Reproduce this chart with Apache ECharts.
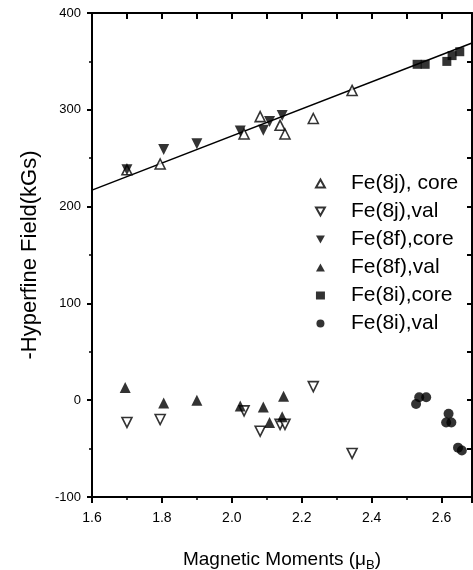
<!DOCTYPE html>
<html>
<head>
<meta charset="utf-8">
<script src="https://cdn.jsdelivr.net/npm/echarts@6/dist/echarts.min.js"></script>
<style>
html,body{margin:0;padding:0;background:#fff;}
#chart{width:473px;height:570px;}
</style>
</head>
<body>
<div id="chart"></div>
<script>
// values
var j8CoreX = [1.70, 1.795, 2.035, 2.081, 2.138, 2.152, 2.233, 2.344];
var j8CoreY = [238, 244, 275, 293, 284, 275, 291, 320];
var j8ValX = [1.70, 1.795, 2.035, 2.081, 2.138, 2.152, 2.233, 2.344];
var j8ValY = [-23, -20, -11, -32, -25, -25, 14, -55];
var f8CoreX = [1.70, 1.805, 1.90, 2.024, 2.09, 2.108, 2.144];
var f8CoreY = [238, 259, 265, 278, 279, 288, 294];
var f8ValX = [1.695, 1.805, 1.90, 2.024, 2.09, 2.108, 2.144, 2.148];
var f8ValY = [13, -3, 0, -6, -7, -23, -17, 4];
var i8CoreX = [2.53, 2.553, 2.615, 2.63, 2.652];
var i8CoreY = [347, 347, 350, 356, 360];
var i8ValX = [2.527, 2.536, 2.556, 2.613, 2.62, 2.628, 2.647, 2.658];
var i8ValY = [-4, 3, 3, -23, -14, -23, -49, -52];
var fitX = [1.6, 2.687];
var fitY = [217, 369];
var legendNames = ['Fe(8j), core', 'Fe(8j),val', 'Fe(8f),core', 'Fe(8f),val', 'Fe(8i),core', 'Fe(8i),val'];

function pairs(xs, ys) {
	var out = [];
	for (var k = 0; k < xs.length; k++) out.push([xs[k], ys[k]]);
	return out;
}

var chart = echarts.init(document.getElementById('chart'));
var font = 'Liberation Sans, Arial, sans-serif';
var openStyle = {color: '#fff', borderColor: '#000', borderWidth: 1.6};
var fillStyle = {color: '#000', borderColor: '#000', borderWidth: 0};
var upIcon = 'path://M5,0 L10,9 L0,9 Z';
var downIcon = 'path://M0,0 L10,0 L5,9 Z';
var legendIcons = [upIcon, downIcon, downIcon, upIcon, 'rect', 'circle'];

var option = {
	backgroundColor: '#fff',
	animation: false,
	textStyle: {fontFamily: font, color: '#000'},
	grid: {left: 92, right: 1, top: 13, bottom: 73, outerBoundsMode: 'none', containLabel: false},
	legend: {
		data: legendNames.map(function (n, k) { return {name: n, icon: legendIcons[k]}; }),
		orient: 'vertical',
		left: 310,
		top: 168,
		itemWidth: 9,
		itemHeight: 8,
		itemGap: 7,
		textStyle: {fontSize: 21, color: '#000', fontFamily: font, padding: [0, 0, 0, 21]}
	},
	xAxis: [
		{
			type: 'value',
			position: 'bottom',
			min: 1.6,
			max: 2.687,
			interval: 0.2,
			name: '{a|Magnetic Moments (μ}{b|B}{a|)}',
			nameLocation: 'middle',
			nameGap: 50,
			nameTextStyle: {
				rich: {
					a: {fontSize: 19, fontFamily: font, color: '#000'},
					b: {fontSize: 13, fontFamily: font, color: '#000', verticalAlign: 'bottom', padding: [12, 0, 0, 0]}
				}
			},
			axisLine: {show: true, onZero: false, lineStyle: {color: '#000', width: 2}},
			axisTick: {show: true, inside: false, length: 6, lineStyle: {color: '#000', width: 2}},
			minorTick: {show: true, splitNumber: 2, length: 3, lineStyle: {color: '#000', width: 1.5}},
			axisLabel: {
				fontSize: 14, color: '#000', fontFamily: font, margin: 14, showMaxLabel: false,
				formatter: function (v) { return v.toFixed(1); }
			},
			splitLine: {show: false}
		},
		{
			type: 'value',
			position: 'top',
			min: 1.6,
			max: 2.687,
			interval: 0.1,
			axisLine: {show: true, onZero: false, lineStyle: {color: '#000', width: 2}},
			axisTick: {show: true, inside: true, length: 6, lineStyle: {color: '#000', width: 2}},
			axisLabel: {show: false},
			splitLine: {show: false}
		}
	],
	yAxis: [
		{
			type: 'value',
			position: 'left',
			min: -100,
			max: 400,
			interval: 100,
			name: '-Hyperfine Field(kGs)',
			nameLocation: 'middle',
			nameGap: 51,
			nameTextStyle: {fontSize: 22, fontFamily: font, color: '#000'},
			axisLine: {show: true, onZero: false, lineStyle: {color: '#000', width: 2}},
			axisTick: {show: true, inside: false, length: 5, lineStyle: {color: '#000', width: 2}},
			minorTick: {show: true, splitNumber: 2, length: 3, lineStyle: {color: '#000', width: 1.5}},
			axisLabel: {fontSize: 13, color: '#000', fontFamily: font, margin: 11},
			splitLine: {show: false}
		},
		{
			type: 'value',
			position: 'right',
			min: -100,
			max: 400,
			interval: 50,
			axisLine: {show: true, onZero: false, lineStyle: {color: '#000', width: 2}},
			axisTick: {show: true, inside: true, length: 5, lineStyle: {color: '#000', width: 2}},
			axisLabel: {show: false},
			splitLine: {show: false}
		}
	],
	series: [
		{
			name: 'fit',
			type: 'line',
			data: pairs(fitX, fitY),
			showSymbol: false,
			symbol: 'none',
			lineStyle: {color: '#000', width: 1.5},
			z: 1
		},
		{
			name: 'Fe(8j), core',
			type: 'scatter',
			symbol: 'triangle',
			symbolSize: 10,
			itemStyle: openStyle,
			data: pairs(j8CoreX, j8CoreY),
			z: 3
		},
		{
			name: 'Fe(8j),val',
			type: 'scatter',
			symbol: 'triangle',
			symbolRotate: 180,
			symbolSize: 10,
			itemStyle: openStyle,
			data: pairs(j8ValX, j8ValY),
			z: 3
		},
		{
			name: 'Fe(8f),core',
			type: 'scatter',
			symbol: 'triangle',
			symbolRotate: 180,
			symbolSize: 11,
			itemStyle: fillStyle,
			data: pairs(f8CoreX, f8CoreY),
			z: 4
		},
		{
			name: 'Fe(8f),val',
			type: 'scatter',
			symbol: 'triangle',
			symbolSize: 11,
			itemStyle: fillStyle,
			data: pairs(f8ValX, f8ValY),
			z: 4
		},
		{
			name: 'Fe(8i),core',
			type: 'scatter',
			symbol: 'rect',
			symbolSize: 9,
			itemStyle: fillStyle,
			data: pairs(i8CoreX, i8CoreY),
			z: 4
		},
		{
			name: 'Fe(8i),val',
			type: 'scatter',
			symbol: 'circle',
			symbolSize: 10,
			itemStyle: fillStyle,
			data: pairs(i8ValX, i8ValY),
			z: 4
		}
	]
};
chart.setOption(option);
</script>
</body>
</html>
